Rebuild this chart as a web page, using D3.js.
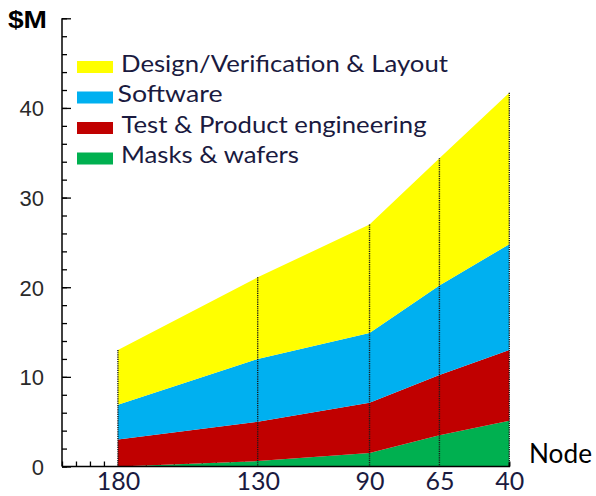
<!DOCTYPE html>
<html>
<head>
<meta charset="utf-8">
<script src="https://cdn.jsdelivr.net/npm/d3@7/dist/d3.min.js"></script>
<style>
  html, body { margin: 0; padding: 0; background: #fff; }
  svg { display: block; }
</style>
</head>
<body>
<svg id="chart" width="596" height="496"></svg>
<script>
// Process node (nm) and cost components in $M, stacked from bottom to top
const nodes = [180, 130, 90, 65, 40];
const masksWafers   = [0.0, 0.6, 1.5, 3.5, 5.1];
const testProduct   = [3.0, 4.4, 5.6, 6.7, 7.9];
const software      = [3.9, 7.0, 7.8, 10.0, 11.8];
const designLayout  = [6.1, 9.1, 12.1, 14.2, 16.9];

const seriesNames  = ["Masks & wafers", "Test & Product engineering", "Software", "Design/Verification & Layout"];
const seriesKeys   = ["masks", "test", "software", "design"];
const seriesColors = ["#00B050", "#C00000", "#00B0F0", "#FFFF00"];

const yMajorTicks = [0, 10, 20, 30, 40, 50];
const yTickLabels = ["0", "10", "20", "30", "40", ""];

const rows = nodes.map((n, i) => ({
  node: n,
  masks: masksWafers[i],
  test: testProduct[i],
  software: software[i],
  design: designLayout[i]
}));

const svg = d3.select("#chart");

const x = d3.scaleLinear().domain([200, 40]).range([62, 509.3]);
const y = d3.scaleLinear().domain([0, 50]).range([466.5, 18.3]);

const labelFont = "Lato, 'Open Sans', sans-serif";

// minor ticks along the node axis (mostly hidden behind the areas)
svg.append("g")
  .attr("transform", `translate(0,${y(0)})`)
  .call(d3.axisBottom(x).tickValues(d3.range(200, 39, -5)).tickSize(-5).tickFormat(""))
  .call(g => g.select(".domain").remove())
  .call(g => g.selectAll("line").attr("stroke", "#000").attr("stroke-width", 1.3));

// stacked areas
const stacked = d3.stack().keys(seriesKeys)(rows);
const area = d3.area()
  .x(d => x(d.data.node))
  .y0(d => y(d[0]))
  .y1(d => y(d[1]));

svg.append("g").selectAll("path")
  .data(stacked)
  .join("path")
  .attr("d", area)
  .attr("fill", (d, i) => seriesColors[i]);

// dotted drop lines at every node
const topLayer = stacked[stacked.length - 1];
svg.append("g").selectAll("line")
  .data(topLayer)
  .join("line")
  .attr("x1", d => x(d.data.node))
  .attr("x2", d => x(d.data.node))
  .attr("y1", d => y(d[1]))
  .attr("y2", y(0))
  .attr("stroke", "#1a1a1a")
  .attr("stroke-width", 1.4)
  .attr("stroke-dasharray", "1.2,1");

// y axis: minor ticks every 2, major ticks every 10
svg.append("g")
  .attr("transform", `translate(${x(200)},0)`)
  .call(d3.axisLeft(y).tickValues(d3.range(0, 51, 2)).tickSize(-5).tickFormat(""))
  .call(g => g.select(".domain").remove())
  .call(g => g.selectAll("line").attr("stroke", "#000").attr("stroke-width", 1.3));

svg.append("g")
  .attr("transform", `translate(${x(200)},0)`)
  .call(d3.axisLeft(y).tickValues(yMajorTicks).tickSize(-9).tickPadding(18)
    .tickFormat((d, i) => yTickLabels[i]))
  .call(g => g.select(".domain").attr("stroke", "#000").attr("stroke-width", 1.5)
    .attr("d", `M0,${y(0)}V${y(50)}`))
  .call(g => g.selectAll("line").attr("stroke", "#000").attr("stroke-width", 1.3))
  .call(g => g.selectAll("text")
    .attr("font-family", "'Liberation Sans', Arial, sans-serif")
    .attr("font-size", 22)
    .attr("fill", "#2a2a2a")
    .attr("dy", "0.36em"));

// x axis baseline and node labels
svg.append("g")
  .attr("transform", `translate(0,${y(0)})`)
  .call(d3.axisBottom(x).tickValues(nodes).tickSize(0).tickFormat(d3.format("d")))
  .call(g => g.select(".domain").attr("stroke", "#000").attr("stroke-width", 1.5)
    .attr("d", `M${x(200)},0H${x(40)}V-4`))
  .call(g => g.selectAll("text")
    .attr("font-family", labelFont)
    .attr("font-size", 25)
    .attr("y", 23.5)
    .attr("dy", 0)
    .attr("fill", "#1a1a40"));

// axis titles
svg.append("text")
  .attr("x", 8).attr("y", 28)
  .attr("font-family", "'Liberation Sans', Arial, sans-serif")
  .attr("font-weight", "bold")
  .attr("font-size", 23)
  .attr("textLength", 39)
  .attr("lengthAdjust", "spacingAndGlyphs")
  .attr("fill", "#000")
  .text("$M");

svg.append("text")
  .attr("x", 529).attr("y", 463)
  .attr("font-family", labelFont)
  .attr("font-size", 27)
  .attr("textLength", 63)
  .attr("lengthAdjust", "spacingAndGlyphs")
  .attr("fill", "#000")
  .text("Node");

// legend (top series first)
const legendItems = [
  { name: seriesNames[3], color: seriesColors[3], tx: 121,   w: 327 },
  { name: seriesNames[2], color: seriesColors[2], tx: 117.5, w: 105 },
  { name: seriesNames[1], color: seriesColors[1], tx: 121.5, w: 305 },
  { name: seriesNames[0], color: seriesColors[0], tx: 121,   w: 178 }
];
const legend = svg.append("g");
legendItems.forEach((d, i) => {
  const ry = 61 + i * 30.5;
  legend.append("rect")
    .attr("x", 77).attr("y", ry)
    .attr("width", 36).attr("height", 12)
    .attr("fill", d.color);
  legend.append("text")
    .attr("x", d.tx).attr("y", ry + 10.5)
    .attr("font-family", labelFont)
    .attr("font-size", 24)
    .attr("textLength", d.w)
    .attr("lengthAdjust", "spacingAndGlyphs")
    .attr("fill", "#1a1a40")
    .text(d.name);
});
</script>
</body>
</html>
